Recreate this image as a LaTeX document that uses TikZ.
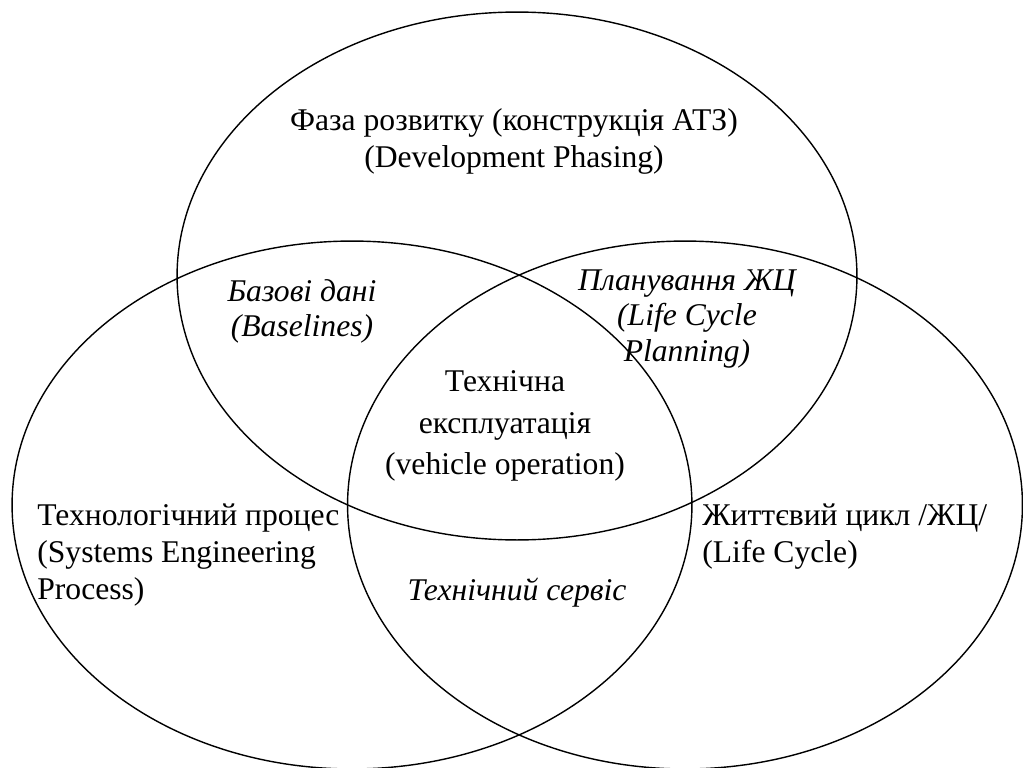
\documentclass[tikz,border=0pt]{standalone}
\usepackage{fontspec}
\setmainfont{Liberation Serif}
\usetikzlibrary{shapes.geometric}
\tikzset{
    EL/.style ={ellipse,draw,line width=0.8pt,inner sep=0pt,minimum width=13.6cm,minimum height=10.56cm},
    TX/.style ={inner sep=0pt,align=center,font=\fontsize{18}{21}\selectfont},
    TL/.style ={inner sep=0pt,align=left,anchor=west,font=\fontsize{18}{21}\selectfont},
    TI/.style ={inner sep=0pt,align=center,font=\fontsize{18}{20}\selectfont\itshape}}
\begin{document}
\begin{tikzpicture}[x=0.02cm,y=-0.02cm]
        \useasboundingbox (0,0) rectangle (1023,767);
        \node[EL] (faza) at (517,276) {};
        \node[EL] (proc) at (352,505) {};
        \node[EL,minimum width=13.5cm] (cycle) at (685,505) {};
        \node[TX] (fazat) at (514,141) {Фаза розвитку (конструкція АТЗ)\\(Development Phasing)};
        \node[TI] (base) at (302,311) {Базові дані\\(Baselines)};
        \node[TI] (plan) at (687,319) {Планування ЖЦ\\(Life Cycle\\Planning)};
        \node[TX,font=\fontsize{18}{23.5}\selectfont] (oper) at (505,426) {Технічна\\експлуатація\\(vehicle operation)};
        \node[TL] (proct) at (37,555) {Технологічний процес\\(Systems Engineering\\Process)};
        \node[TL] (cyclet) at (702,537) {Життєвий цикл /ЖЦ/\\(Life Cycle)};
        \node[TI] (serv) at (517,593) {Технічний сервіс};
\end{tikzpicture}
\end{document}
